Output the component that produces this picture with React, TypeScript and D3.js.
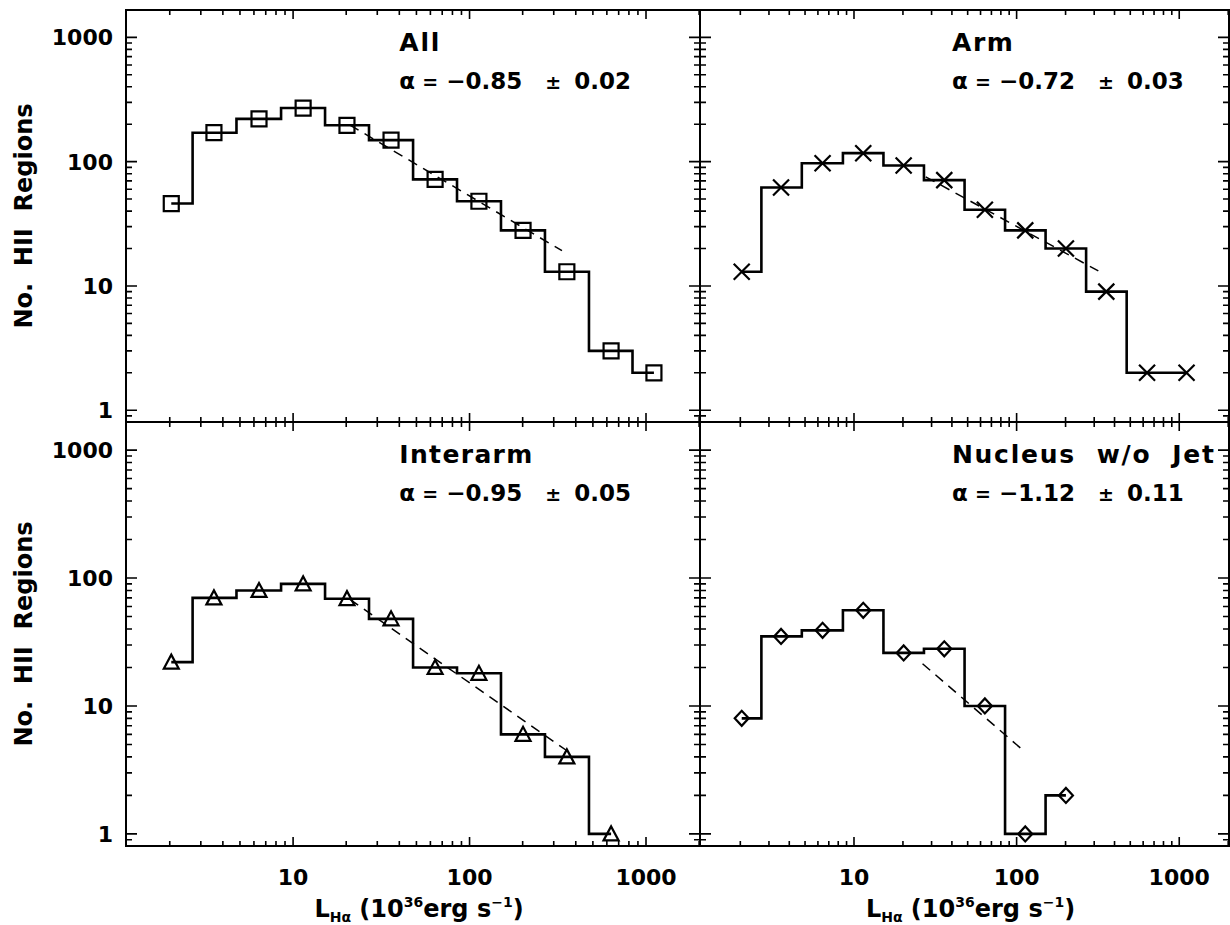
import React from "react";
import * as d3 from "d3";

// ---- data ----
const binCenters = [2.04, 3.56, 6.41, 11.4, 20.2, 35.9, 63.8, 113, 201, 356, 634, 1109];
const allCounts = [46, 171, 221, 270, 196, 149, 72, 48, 28, 13, 3, 2];
const armCounts = [13, 62, 97, 117, 93, 71, 41, 28, 20, 9, 2, 2];
const interarmCounts = [22, 70, 80, 90, 69, 48, 20, 18, 6, 4, 1];
const nucleusCounts = [8, 35, 39, 56, 26, 28, 10, 1, 2];

const panelTitles = ["All", "Arm", "Interarm", "Nucleus  w/o  Jet"];
const alphaValues = ["\u22120.85", "\u22120.72", "\u22120.95", "\u22121.12"];
const alphaErrors = ["0.02", "0.03", "0.05", "0.11"];
const fitXs = [[21, 334], [27.6, 318], [21, 371], [26.4, 112]];
const fitYs = [[197, 19.2], [75.5, 13.2], [68, 4.3], [21.4, 4.4]];
const yTickLabels = ["1", "10", "100", "1000"];
const xTickLabels = ["10", "100", "1000"];
const xDomain = [1.13, 2023];
const yDomain = [0.804, 1660];

const FONT = "'DejaVu Sans', Verdana, sans-serif";

type MarkerKind = "square" | "cross" | "triangle" | "diamond";

function markerPath(kind: MarkerKind, x: number, y: number): string {
  switch (kind) {
    case "square":
      return `M${x - 7.5},${y - 7.5}h15v15h-15Z`;
    case "cross":
      return `M${x - 8},${y - 8}L${x + 8},${y + 8}M${x - 8},${y + 8}L${x + 8},${y - 8}`;
    case "triangle":
      return `M${x - 7.5},${y + 6.5}L${x},${y - 7.5}L${x + 7.5},${y + 6.5}Z`;
    case "diamond":
      return `M${x - 7},${y}L${x},${y - 7.5}L${x + 7},${y}L${x},${y + 7.5}Z`;
  }
}

function logTicks(lo: number, hi: number) {
  const out: { v: number; major: boolean }[] = [];
  for (let e = -1; e <= 4; e++) {
    for (let m = 1; m <= 9; m++) {
      const v = m * Math.pow(10, e);
      if (v >= lo && v <= hi) out.push({ v, major: m === 1 });
    }
  }
  return out;
}

interface PanelProps {
  x0: number; x1: number; y0: number; y1: number;
  counts: number[];
  marker: MarkerKind;
  title: string;
  titleLen: number;
  alpha: string;
  alphaErr: string;
  fitX: number[];
  fitY: number[];
  showYLabels: boolean;
  showXLabels: boolean;
}

function Panel(p: PanelProps) {
  const x = d3.scaleLog().domain(xDomain).range([p.x0, p.x1]);
  const y = d3.scaleLog().domain(yDomain).range([p.y1, p.y0]);
  const pts = p.counts.map((c, i) => [binCenters[i], c] as [number, number]);
  const step = d3
    .line<[number, number]>()
    .x((d) => x(d[0]))
    .y((d) => y(d[1]))
    .curve(d3.curveStep)(pts) as string;
  const fit = d3
    .line<[number, number]>()
    .x((d) => x(d[0]))
    .y((d) => y(d[1]))([
    [p.fitX[0], p.fitY[0]],
    [p.fitX[1], p.fitY[1]],
  ]) as string;

  const xt = logTicks(xDomain[0], xDomain[1]);
  const yt = logTicks(yDomain[0], yDomain[1]);
  let tickPath = "";
  xt.forEach((t) => {
    const px = x(t.v);
    const L = t.major ? 9 : 5;
    tickPath += `M${px},${p.y1}v${-L}M${px},${p.y0}v${L}`;
  });
  yt.forEach((t) => {
    const py = y(t.v);
    const L = t.major ? 11 : 6;
    tickPath += `M${p.x0},${py}h${L}M${p.x1},${py}h${-L}`;
  });

  const tx = x(40);
  const ty = p.y0 + 41;
  const ay = p.y0 + 79;

  return (
    <g>
      <path d={tickPath} stroke="#000" strokeWidth={1.6} fill="none" />
      <rect x={p.x0} y={p.y0} width={p.x1 - p.x0} height={p.y1 - p.y0} fill="none" stroke="#000" strokeWidth={2} />
      <path d={fit} stroke="#000" strokeWidth={1.5} strokeDasharray="10,7" fill="none" />
      <path d={step} stroke="#000" strokeWidth={2.6} fill="none" strokeLinejoin="miter" />
      {pts.map((d, i) => (
        <path key={i} d={markerPath(p.marker, x(d[0]), y(d[1]))} stroke="#000" strokeWidth={2.2} fill="none" />
      ))}
      <text x={tx} y={ty} fontFamily={FONT} fontWeight="bold" fontSize={25} textLength={p.titleLen} lengthAdjust="spacing" style={{ whiteSpace: "pre" }}>
        {p.title}
      </text>
      <g fontFamily={FONT} fontWeight="bold" fontSize={23}>
        <text x={tx} y={ay}>α</text>
        <text x={tx + 23} y={ay} fontSize={19}>=</text>
        <text x={tx + 47} y={ay}>{p.alpha}</text>
        <text x={tx + 146} y={ay} fontSize={19}>±</text>
        <text x={tx + 175} y={ay}>{p.alphaErr}</text>
      </g>
      {p.showYLabels &&
        yTickLabels.map((s) => (
          <text key={s} x={p.x0 - 13} y={y(+s)} dy="0.36em" textAnchor="end" fontFamily={FONT} fontWeight="bold" fontSize={22}>
            {s}
          </text>
        ))}
      {p.showXLabels &&
        xTickLabels.map((s) => (
          <text key={s} x={x(+s)} y={p.y1 + 39} textAnchor="middle" fontFamily={FONT} fontWeight="bold" fontSize={22}>
            {s}
          </text>
        ))}
      {p.showXLabels && (
        <text x={(p.x0 + p.x1) / 2 + 6} y={p.y1 + 71} textAnchor="middle" fontFamily={FONT} fontWeight="bold" fontSize={24}>
          L<tspan fontSize={14} dy={5}>Hα</tspan>
          <tspan dy={-5}> (10</tspan>
          <tspan fontSize={14} dy={-10}>36</tspan>
          <tspan dy={10}>erg s</tspan>
          <tspan fontSize={14} dy={-10}>−1</tspan>
          <tspan dy={10}>)</tspan>
        </text>
      )}
      {p.showYLabels && (
        <text transform={`translate(32,${(p.y0 + p.y1) / 2}) rotate(-90)`} textAnchor="middle" fontFamily={FONT} fontWeight="bold" fontSize={24} style={{ whiteSpace: "pre" }}>
          No.  HII  Regions
        </text>
      )}
    </g>
  );
}

export default function App() {
  const cols = [[126, 700], [700, 1229]];
  const rows = [[10, 422], [422, 846]];
  const counts = [allCounts, armCounts, interarmCounts, nucleusCounts];
  const markers: MarkerKind[] = ["square", "cross", "triangle", "diamond"];
  const titleLens = [40, 61, 133, 262];
  return (
    <svg width={1230} height={925} style={{ position: "absolute", left: 0, top: 0, background: "#fff" }}>
      <rect width={1230} height={925} fill="#fff" />
      {counts.map((c, i) => {
        const col = cols[i % 2];
        const row = rows[Math.floor(i / 2)];
        return (
          <Panel
            key={i}
            x0={col[0]} x1={col[1]} y0={row[0]} y1={row[1]}
            counts={c}
            marker={markers[i]}
            title={panelTitles[i]}
            titleLen={titleLens[i]}
            alpha={alphaValues[i]}
            alphaErr={alphaErrors[i]}
            fitX={fitXs[i]}
            fitY={fitYs[i]}
            showYLabels={i % 2 === 0}
            showXLabels={i >= 2}
          />
        );
      })}
    </svg>
  );
}
